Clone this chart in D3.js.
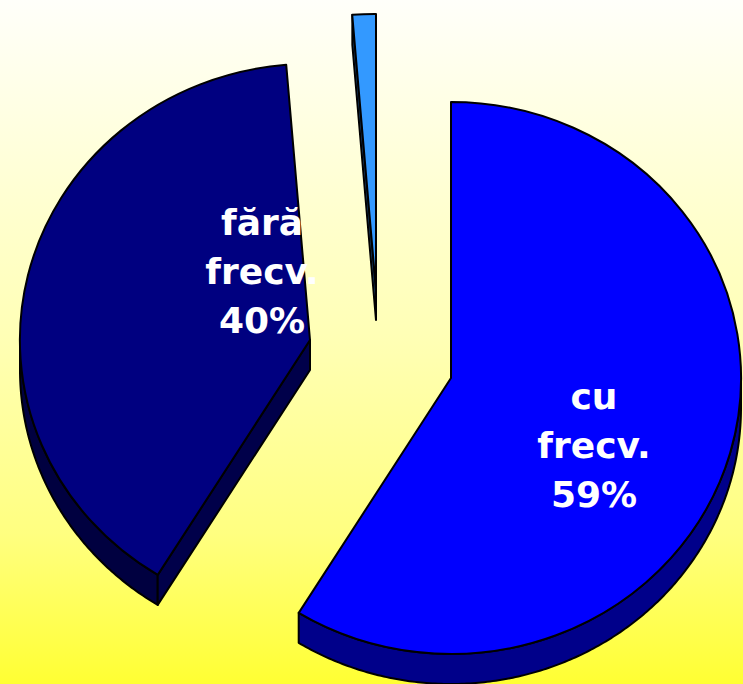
<!DOCTYPE html>
<html><head><meta charset="utf-8">
<script src="https://cdn.jsdelivr.net/npm/d3@7"></script>
<style>html,body{margin:0;padding:0;overflow:hidden;background:#fff}svg{display:block}</style>
</head><body>
<script>
// ---- data ----
const categories = ["cu frecv.", "fără frecv.", "altele"];
const values = [58.8, 39.9, 1.3];
const labelLines = [["cu", "frecv."], ["fără", "frecv."], []];

// ---- style / layout ----
const topColors = ["#0000FF", "#000080", "#3399FF"];
const wallColors = ["#00008A", "#000040", "#1F5C99"];
const radialColors = ["#000070", "#00004A", "#1A4D80"];
const W = 743, H = 684;
const rx = 290, ry = 276, depth = 30;
const apex = [[451, 378], [310, 340], [376, 290]];
const labelAnchor = [[594, 409], [262, 235]];
const lineH = 49;

const svg = d3.select("body").append("svg").attr("width", W).attr("height", H);
const defs = svg.append("defs");
const g = defs.append("linearGradient").attr("id", "bg").attr("x1", 0).attr("y1", 0).attr("x2", 0).attr("y2", 1);
[[0, "#FFFFFA"], [0.5, "#FFFFB4"], [0.78, "#FFFF80"], [1, "#FFFF33"]].forEach(([o, c]) =>
  g.append("stop").attr("offset", o).attr("stop-color", c));
svg.append("rect").attr("width", W).attr("height", H).attr("fill", "url(#bg)");

const pie = d3.pie().sort(null).value(d => d);
const arcs = pie(values);
const total = d3.sum(values);
const arcGen = d3.arc().innerRadius(0).outerRadius(1);
const line = d3.line();

function rim(a, c, dz) { return [c[0] + rx * Math.sin(a), c[1] - ry * Math.cos(a) + dz]; }

const order = [1, 2, 0];
order.forEach(i => {
  const d = arcs[i];
  const c = apex[i];
  const a0 = d.startAngle, a1 = d.endAngle;
  const layer = svg.append("g");
  // outer wall (front-facing part)
  const w0 = Math.max(a0, Math.PI / 2), w1 = Math.min(a1, 3 * Math.PI / 2);
  if (w1 > w0) {
    const n = Math.max(2, Math.ceil((w1 - w0) / 0.01));
    const angs = d3.range(n + 1).map(k => w0 + (w1 - w0) * k / n);
    const pts = angs.map(a => rim(a, c, 0)).concat(angs.slice().reverse().map(a => rim(a, c, depth)));
    layer.append("path").attr("d", line(pts) + "Z")
      .attr("fill", wallColors[i]).attr("stroke", "#000").attr("stroke-width", 2).attr("stroke-linejoin", "round");
  }
  // radial walls
  const radial = [];
  if (Math.sin(a0) < -1e-6) radial.push(a0);
  if (Math.sin(a1) > 1e-6) radial.push(a1);
  radial.forEach(a => {
    const p = rim(a, c, 0), q = rim(a, c, depth);
    const pts = [[c[0], c[1]], p, q, [c[0], c[1] + depth]];
    layer.append("path").attr("d", line(pts) + "Z")
      .attr("fill", radialColors[i]).attr("stroke", "#000").attr("stroke-width", 2).attr("stroke-linejoin", "round");
  });
  // top face
  layer.append("path")
    .attr("d", arcGen(d))
    .attr("transform", `translate(${c[0]},${c[1]}) scale(${rx},${ry})`)
    .attr("fill", topColors[i]).attr("stroke", "#000").attr("stroke-width", 2)
    .attr("vector-effect", "non-scaling-stroke").attr("stroke-linejoin", "round");
});

// labels
arcs.forEach((d, i) => {
  if (!labelLines[i].length) return;
  const pct = Math.round(values[i] / total * 100) + "%";
  const lines = labelLines[i].concat([pct]);
  const t = svg.append("text")
    .attr("font-family", "Verdana, 'DejaVu Sans', sans-serif")
    .attr("font-weight", "bold").attr("font-size", 36)
    .attr("fill", "#fff").attr("text-anchor", "middle");
  lines.forEach((s, k) => t.append("tspan")
    .attr("x", labelAnchor[i][0]).attr("y", labelAnchor[i][1] + k * lineH).text(s));
});
</script>
</body></html>
